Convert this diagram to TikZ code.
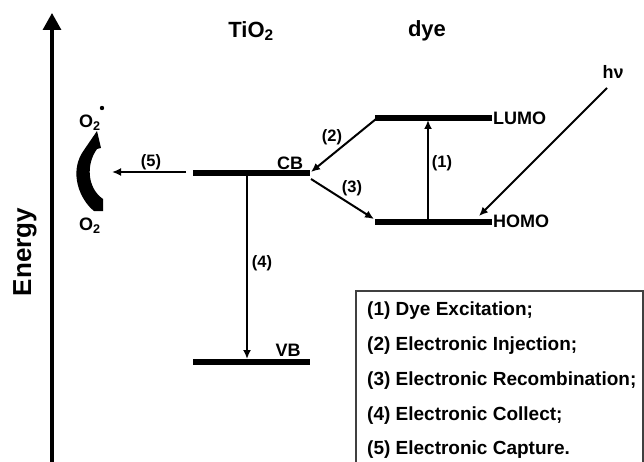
\documentclass[tikz,border=0pt]{standalone}
\usepackage{fontspec}
\setmainfont{Liberation Sans}
\usetikzlibrary{arrows.meta}
\begin{document}
\begin{tikzpicture}[x=1pt,y=-1pt,
  level/.style={line width=6.5pt},
  conn/.style={line width=2pt,-{Latex[length=9pt,width=8pt]}},
  lbl/.style={font=\bfseries\fontsize{16.5}{19}\selectfont, inner sep=0pt},
  lvl/.style={font=\bfseries\fontsize{18}{21}\selectfont, inner sep=0pt},
  ttl/.style={font=\bfseries\fontsize{22}{26}\selectfont, inner sep=0pt},
  leg/.style={font=\bfseries\fontsize{19}{22}\selectfont, inner sep=0pt, anchor=base west},
  mol/.style={font=\bfseries\fontsize{18}{21}\selectfont, inner sep=0pt}]
\useasboundingbox (0,0) rectangle (644,462);
\clip (0,0) rectangle (644,462);
% energy axis
\coordinate (ebot) at (52,470);
\coordinate (etop) at (52,13);
\draw[line width=3.2pt,-{Triangle[length=17pt,width=18pt]}] (ebot) -- (etop);
\node[rotate=90, font=\bfseries\fontsize{26}{30}\selectfont, inner sep=0pt] (energy) at (25,252) {Energy};
% titles
\node[ttl] (tio2) at (251,31) {TiO\textsubscript{2}};
\node[ttl] (dye) at (427,31) {dye};
\node[lvl] (hv) at (613,72) {hν};
% levels
\coordinate (lumoL) at (375,118); \coordinate (lumoR) at (492,118);
\coordinate (homoL) at (375,222); \coordinate (homoR) at (492,222);
\coordinate (cbL) at (193,173); \coordinate (cbR) at (310,173);
\coordinate (vbL) at (193,362); \coordinate (vbR) at (310,362);
\draw[level] (lumoL) -- (lumoR);
\draw[level] (homoL) -- (homoR);
\draw[level] (cbL) -- (cbR);
\draw[level] (vbL) -- (vbR);
\node[lvl, anchor=west] (lumo) at (493,118) {LUMO};
\node[lvl, anchor=west] (homo) at (493,221) {HOMO};
\node[lvl] (cb) at (290,163) {CB};
\node[lvl] (vb) at (288,350) {VB};
% transitions
\coordinate (a1s) at (428,219); \coordinate (a1e) at (428,120);
\draw[conn] (a1s) -- (a1e);
\node[lbl] (l1) at (442,163) {(1)};
\coordinate (a2s) at (376,119); \coordinate (a2e) at (311,172);
\draw[conn] (a2s) -- (a2e);
\node[lbl] (l2) at (332,137) {(2)};
\coordinate (a3s) at (311,179); \coordinate (a3e) at (374,219);
\draw[conn] (a3s) -- (a3e);
\node[lbl] (l3) at (352,188) {(3)};
\coordinate (a4s) at (247,176); \coordinate (a4e) at (247,359);
\draw[conn] (a4s) -- (a4e);
\node[lbl] (l4) at (262,263) {(4)};
\coordinate (a5s) at (186,172); \coordinate (a5e) at (112,172);
\draw[conn] (a5s) -- (a5e);
\node[lbl] (l5) at (151,162) {(5)};
\coordinate (hvs) at (607,88); \coordinate (hve) at (479,216);
\draw[conn] (hvs) -- (hve);
% oxygen
\node[mol] (o2r) at (90,123) {O\textsubscript{2}};
\fill (102,108) circle (2.2pt);
\node[mol] (o2) at (90,226) {O\textsubscript{2}};
\fill (94,211) .. controls (80,200) and (68,172) .. (84,150) -- (97,131) -- (101,148) -- (97,149)
  .. controls (86,164) and (87,188) .. (103,199) -- (103,211) -- cycle;
% legend
\draw[line width=1.5pt, black!75] (356,480) -- (356,291) -- (643,291) -- (643,480);
\node[leg] (t1) at (367,315) {(1) Dye Excitation;};
\node[leg] (t2) at (367,350) {(2) Electronic Injection;};
\node[leg] (t3) at (367,385) {(3) Electronic Recombination;};
\node[leg] (t4) at (367,420) {(4) Electronic Collect;};
\node[leg] (t5) at (367,454) {(5) Electronic Capture.};
\end{tikzpicture}
\end{document}
